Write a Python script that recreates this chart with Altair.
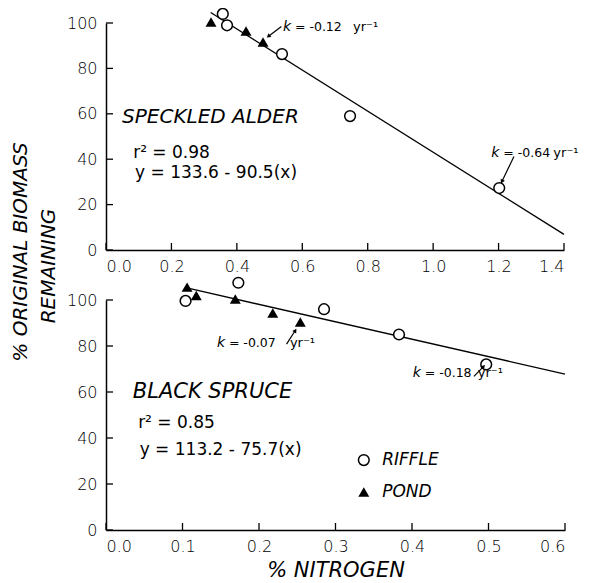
import math
import altair as alt
import pandas as pd

# ---------------- data ----------------
alder_riffle_n = [0.357, 0.370, 0.538, 0.746, 1.202]
alder_riffle_pct = [104.0, 99.0, 86.3, 59.0, 27.3]
alder_pond_n = [0.321, 0.428, 0.480]
alder_pond_pct = [100.4, 96.5, 91.6]
alder_fit_n = [0.32, 1.40]
alder_fit_pct = [104.6, 6.9]

spruce_riffle_n = [0.104, 0.173, 0.285, 0.383, 0.497]
spruce_riffle_pct = [99.6, 107.5, 96.0, 85.0, 72.0]
spruce_pond_n = [0.106, 0.118, 0.169, 0.218, 0.254]
spruce_pond_pct = [105.6, 102.0, 100.4, 94.3, 90.4]
spruce_fit_n = [0.11, 0.60]
spruce_fit_pct = [104.9, 67.8]

alder_x_ticks = [0.0, 0.2, 0.4, 0.6, 0.8, 1.0, 1.2, 1.4]
spruce_x_ticks = [0.0, 0.1, 0.2, 0.3, 0.4, 0.5, 0.6]
y_ticks = [0, 20, 40, 60, 80, 100]

# annotation texts
alder_title = "SPECKLED ALDER"
alder_stats = ["r² = 0.98", "y = 133.6 - 90.5(x)"]
spruce_title = "BLACK SPRUCE"
spruce_stats = ["r² = 0.85", "y = 113.2 - 75.7(x)"]
alder_k_value = ["= -0.12", "= -0.64"]
spruce_k_value = ["= -0.07", "= -0.18"]
k_unit = "yr⁻¹"
legend_labels = ["RIFFLE", "POND"]
y_title = ["% ORIGINAL BIOMASS", "REMAINING"]
x_title = "% NITROGEN"

# annotation anchors (data units) and pixel offsets inside the k labels
alder_title_xy = (0.049, 56.0)
alder_stats_x = [0.083, 0.089]
alder_stats_y = [40.5, 31.7]
spruce_title_xy = (0.035, 57.4)
spruce_stats_x = [0.042, 0.044]
spruce_stats_y = [44.3, 32.6]
alder_k_x = [0.541, 1.178]
alder_k_y = [96.5, 41.0]
alder_k_unit_dx = [70, 62]
spruce_k_x = [0.145, 0.401]
spruce_k_y = [79.6, 66.5]
spruce_k_unit_dx = [73, 65]
alder_arrow_tail = ([0.536, 1.247], [98.5, 41.2])
alder_arrow_head = ([0.498, 1.211], [94.3, 30.4])
spruce_arrow_tail = ([0.236, 0.481], [80.8, 66.8])
spruce_arrow_head = ([0.247, 0.493], [86.5, 70.9])
legend_x = 0.337
legend_text_x = 0.361
legend_y = [30.4, 16.5]

FONT = "DejaVu Sans"
W_TOP, H_TOP = 458, 227
W_BOT, H_BOT = 459, 230


def panel(riffle_n, riffle_pct, pond_n, pond_pct, fit_n, fit_pct, xticks, xmax,
          W, H, title, title_size, title_xy, stats, stats_x, stats_y,
          k_value, k_x, k_y, k_unit_dx, tail, head,
          xtitle=None, legend=False, ytitle=False):
    xs = alt.Scale(domain=[0, xmax], nice=False, zero=True)
    ys = alt.Scale(domain=[0, 100], nice=False, zero=True)
    sx = W / xmax
    sy = H / 100.0

    xaxis_kw = dict(values=xticks, format=".1f", ticks=False, grid=False,
                    labelFont=FONT, labelFontSize=16, labelFontWeight=200,
                    labelColor="black", labelPadding=8,
                    domainColor="black", domainWidth=1.5)
    if xtitle:
        xaxis_kw.update(title=xtitle, titleFont=FONT, titleFontSize=21,
                        titleFontStyle="italic", titleFontWeight="normal",
                        titleColor="black", titlePadding=5)
    else:
        xaxis_kw.update(title=None)
    xaxis = alt.Axis(**xaxis_kw)
    yaxis = alt.Axis(values=y_ticks, format="d", ticks=False, grid=False,
                     labelFont=FONT, labelFontSize=16, labelFontWeight=200,
                     labelColor="black", labelPadding=9,
                     domainColor="black", domainWidth=1.5, title=None)

    def X(f):
        return alt.X(f, scale=xs, axis=xaxis)

    def Y(f):
        return alt.Y(f, scale=ys, axis=yaxis)

    fit = pd.DataFrame({"n": fit_n, "pct": fit_pct})
    base_line = alt.Chart(fit).mark_line(color="black", strokeWidth=1.3).encode(
        x=X("n:Q"), y=Y("pct:Q"))

    ytk = pd.DataFrame({"v": y_ticks})
    ytick_rules = alt.Chart(ytk).mark_rule(color="black", strokeWidth=1.3).encode(
        y=Y("v:Q"), x=alt.value(0), x2=alt.value(7))
    xtk = pd.DataFrame({"v": xticks})
    xtick_rules = alt.Chart(xtk).mark_rule(color="black", strokeWidth=1.3).encode(
        x=X("v:Q"), y=alt.value(H), y2=alt.value(H - 7))

    riffle = pd.DataFrame({"n": riffle_n, "pct": riffle_pct})
    pond = pd.DataFrame({"n": pond_n, "pct": pond_pct})
    riffle_pts = alt.Chart(riffle).mark_point(
        shape="circle", filled=False, color="black", strokeWidth=1.5, size=115,
        opacity=1, fill="white", fillOpacity=1).encode(x=X("n:Q"), y=Y("pct:Q"))
    pond_pts = alt.Chart(pond).mark_point(
        shape="triangle-up", filled=True, color="black", size=120, opacity=1).encode(
        x=X("n:Q"), y=Y("pct:Q"))

    tdf = pd.DataFrame({"x": [title_xy[0]], "y": [title_xy[1]], "t": [title]})
    title_txt = alt.Chart(tdf).mark_text(
        align="left", baseline="alphabetic", font=FONT, fontSize=title_size,
        fontStyle="italic", color="black").encode(x=X("x:Q"), y=Y("y:Q"), text="t:N")
    sdf = pd.DataFrame({"x": stats_x, "y": stats_y, "t": stats})
    stats_txt = alt.Chart(sdf).mark_text(
        align="left", baseline="alphabetic", font=FONT, fontSize=17,
        color="black").encode(x=X("x:Q"), y=Y("y:Q"), text="t:N")

    kdf = pd.DataFrame({"x": k_x, "y": k_y, "val": k_value,
                        "ux": [kx + d / sx for kx, d in zip(k_x, k_unit_dx)],
                        "k": ["k"] * len(k_x), "unit": [k_unit] * len(k_x)})
    k_txt = alt.Chart(kdf).mark_text(
        align="left", baseline="alphabetic", font=FONT, fontSize=14,
        fontStyle="italic", color="black").encode(x=X("x:Q"), y=Y("y:Q"), text="k:N")
    val_txt = alt.Chart(kdf).mark_text(
        align="left", baseline="alphabetic", font=FONT, fontSize=12.5, dx=12,
        color="black").encode(x=X("x:Q"), y=Y("y:Q"), text="val:N")
    unit_txt = alt.Chart(kdf).mark_text(
        align="left", baseline="alphabetic", font=FONT, fontSize=13,
        color="black").encode(x=X("ux:Q"), y=Y("y:Q"), text="unit:N")

    angles = []
    for tx, ty, hx, hy in zip(tail[0], tail[1], head[0], head[1]):
        dxp = (hx - tx) * sx
        dyp = -(hy - ty) * sy
        angles.append(math.degrees(math.atan2(dxp, -dyp)) % 360)
    adf = pd.DataFrame({"tx": tail[0], "ty": tail[1], "hx": head[0], "hy": head[1],
                        "ang": angles})
    arrow_shaft = alt.Chart(adf).mark_rule(color="black", strokeWidth=1.2).encode(
        x=X("tx:Q"), y=Y("ty:Q"), x2="hx:Q", y2="hy:Q")
    arrow_head = alt.Chart(adf).mark_point(
        shape="triangle", filled=True, color="black", size=22, opacity=1).encode(
        x=X("hx:Q"), y=Y("hy:Q"), angle=alt.Angle("ang:Q", scale=None))

    layers = [base_line, ytick_rules, xtick_rules, riffle_pts, pond_pts,
              title_txt, stats_txt, k_txt, val_txt, unit_txt, arrow_shaft, arrow_head]

    if legend:
        ldf = pd.DataFrame({"x": [legend_x], "tx": [legend_text_x],
                            "y1": [legend_y[0]], "y2": [legend_y[1]],
                            "l1": [legend_labels[0]], "l2": [legend_labels[1]]})
        lc = alt.Chart(ldf).mark_point(shape="circle", filled=False, color="black",
                                       strokeWidth=1.5, size=115, opacity=1).encode(
            x=X("x:Q"), y=Y("y1:Q"))
        lt = alt.Chart(ldf).mark_point(shape="triangle-up", filled=True, color="black",
                                       size=120, opacity=1).encode(
            x=X("x:Q"), y=Y("y2:Q"))
        l1 = alt.Chart(ldf).mark_text(align="left", baseline="middle", font=FONT,
                                      fontSize=17, fontStyle="italic", color="black").encode(
            x=X("tx:Q"), y=Y("y1:Q"), text="l1:N")
        l2 = alt.Chart(ldf).mark_text(align="left", baseline="middle", font=FONT,
                                      fontSize=17, fontStyle="italic", color="black").encode(
            x=X("tx:Q"), y=Y("y2:Q"), text="l2:N")
        layers += [lc, lt, l1, l2]

    if ytitle:
        ydf = pd.DataFrame({"t1": [y_title[0]], "t2": [y_title[1]]})
        yt1 = alt.Chart(ydf).mark_text(align="center", baseline="middle", font=FONT,
                                       fontSize=20, fontStyle="italic", angle=270,
                                       color="black").encode(
            x=alt.value(-85), y=alt.value(229), text="t1:N")
        yt2 = alt.Chart(ydf).mark_text(align="center", baseline="middle", font=FONT,
                                       fontSize=20, fontStyle="italic", angle=270,
                                       color="black").encode(
            x=alt.value(-57), y=alt.value(243), text="t2:N")
        layers += [yt1, yt2]

    return alt.layer(*layers).properties(width=W, height=H)


top = panel(alder_riffle_n, alder_riffle_pct, alder_pond_n, alder_pond_pct,
            alder_fit_n, alder_fit_pct, alder_x_ticks, 1.4, W_TOP, H_TOP,
            alder_title, 20, alder_title_xy, alder_stats, alder_stats_x, alder_stats_y,
            alder_k_value, alder_k_x, alder_k_y, alder_k_unit_dx,
            alder_arrow_tail, alder_arrow_head, ytitle=True)
bottom = panel(spruce_riffle_n, spruce_riffle_pct, spruce_pond_n, spruce_pond_pct,
               spruce_fit_n, spruce_fit_pct, spruce_x_ticks, 0.6, W_BOT, H_BOT,
               spruce_title, 21, spruce_title_xy, spruce_stats, spruce_stats_x,
               spruce_stats_y, spruce_k_value, spruce_k_x, spruce_k_y,
               spruce_k_unit_dx, spruce_arrow_tail, spruce_arrow_head,
               xtitle=x_title, legend=True)

chart = alt.vconcat(top, bottom, spacing=50, bounds="flush").properties(
    padding={"left": 3, "top": -3, "right": 0, "bottom": 0},
    background="white",
).configure_view(stroke=None)

chart.save("out.html", embed_options={"renderer": "svg", "actions": False})
